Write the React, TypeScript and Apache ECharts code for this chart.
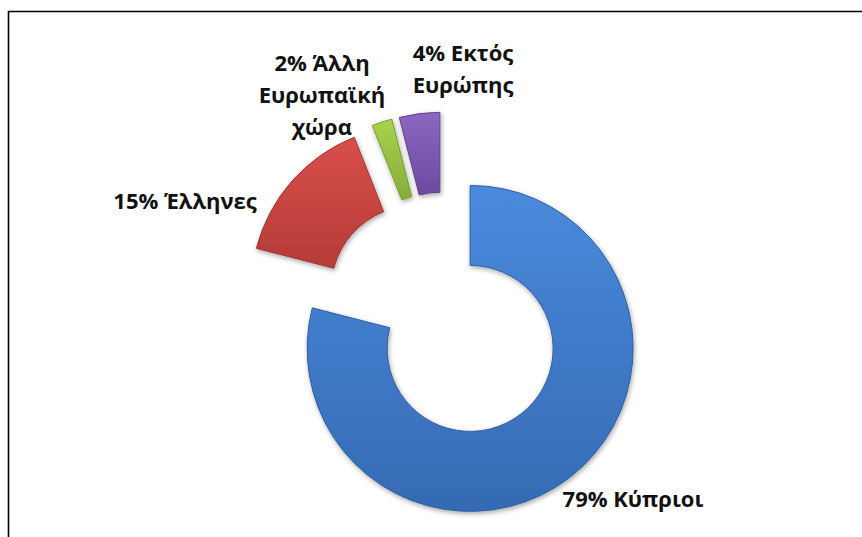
import React, { useEffect, useRef } from "react";
import * as echarts from "echarts";

const categories = ["Κύπριοι", "Έλληνες", "Άλλη\nΕυρωπαϊκή\nχώρα", "Εκτός\nΕυρώπης"];
const values = [79, 15, 2, 4];
const topColors = ["#4a8adc", "#d84f4b", "#a9d24f", "#8c67c2"];
const bottomColors = ["#356ab4", "#b53b38", "#84ae38", "#6c4b9e"];
const edgeColors = ["#2f5f9f", "#a03532", "#759d32", "#5e428c"];
const labelSpots = [
  [633, 498],
  [185, 200],
  [322, 94],
  [463, 68],
];

export default function App() {
  const ref = useRef<HTMLDivElement>(null);
  useEffect(() => {
    if (!ref.current) return;
    const chart = echarts.init(ref.current, undefined, { renderer: "svg" });
    const data = categories.map((name, i) => ({
      name,
      value: values[i],
      selected: true,
      itemStyle: {
        color: new echarts.graphic.LinearGradient(0, 0, 0, 1, [
          { offset: 0, color: topColors[i] },
          { offset: 1, color: bottomColors[i] },
        ]),
        borderColor: edgeColors[i],
        borderWidth: 1,
      },
    }));
    const total = values.reduce((a, b) => a + b, 0);
    const labels = categories.map((name, i) => ({
      type: "text",
      silent: true,
      x: labelSpots[i][0],
      y: labelSpots[i][1],
      style: {
        text: `${Math.round((values[i] / total) * 100)}% ${name}`,
        fontFamily: "Open Sans",
        fontWeight: "bold",
        fontSize: 22,
        lineHeight: 32,
        fill: "#111111",
        align: "center",
        verticalAlign: "middle",
      },
    }));
    chart.setOption({
      animation: false,
      backgroundColor: "#ffffff",
      graphic: [
        {
          type: "rect",
          silent: true,
          z: -10,
          shape: { x: 8.5, y: 11.5, width: 900, height: 600 },
          style: { fill: "none", stroke: "#000000", lineWidth: 1.6 },
        },
        ...labels,
      ],
      series: [
        {
          type: "pie",
          center: [445, 316],
          radius: [83, 163],
          startAngle: 90,
          clockwise: true,
          selectedMode: "multiple",
          selectedOffset: 41,
          itemStyle: {
            shadowBlur: 5,
            shadowColor: "rgba(0,0,0,0.35)",
            shadowOffsetX: 1,
            shadowOffsetY: 2,
          },
          select: { itemStyle: { borderWidth: 1 } },
          label: { show: false },
          labelLine: { show: false },
          data,
        },
      ],
    });
    return () => chart.dispose();
  }, []);
  return (
    <div
      ref={ref}
      style={{ position: "absolute", left: 0, top: 0, width: 862, height: 537 }}
    />
  );
}
